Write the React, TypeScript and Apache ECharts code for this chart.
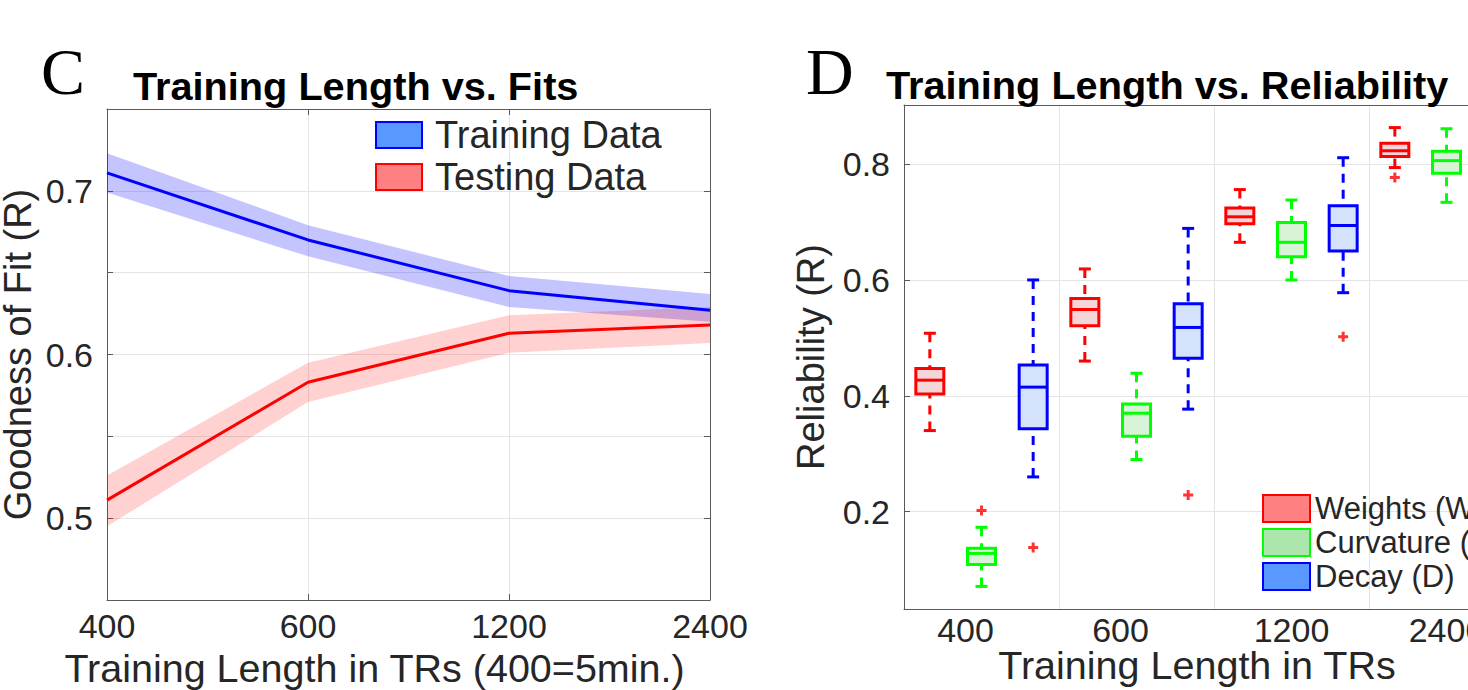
import React, { useEffect, useRef } from 'react';
import * as echarts from 'echarts';

// ---------- Panel C data ----------
const fitLengths = ['400', '600', '1200', '2400'];
const trainMean = [0.711, 0.670, 0.639, 0.627];
const trainUpper = [0.723, 0.679, 0.648, 0.637];
const trainLower = [0.699, 0.660, 0.629, 0.620];
const testMean = [0.511, 0.583, 0.613, 0.618];
const testUpper = [0.526, 0.595, 0.624, 0.629];
const testLower = [0.495, 0.571, 0.601, 0.607];

// ---------- Panel D data ----------
const relLengths = ['400', '600', '1200', '2400'];
// each entry: [min, q1, median, q3, max]
const weightsBox = [
  [0.340, 0.403, 0.427, 0.447, 0.508],
  [0.460, 0.521, 0.549, 0.568, 0.619],
  [0.665, 0.697, 0.709, 0.724, 0.756],
  [0.794, 0.813, 0.823, 0.836, 0.863],
];
const curvatureBox = [
  [0.071, 0.109, 0.128, 0.137, 0.173],
  [0.290, 0.330, 0.370, 0.386, 0.439],
  [0.600, 0.640, 0.665, 0.699, 0.738],
  [0.734, 0.784, 0.806, 0.822, 0.861],
];
const decayBox = [
  [0.260, 0.343, 0.415, 0.453, 0.600],
  [0.377, 0.465, 0.518, 0.559, 0.689],
  [0.578, 0.650, 0.694, 0.728, 0.811],
  [0.700, 0.770, 0.800, 0.830, 0.880],
];
// [training-length index, value]
const weightsOutliers = [[3, 0.777]];
const curvatureOutliers = [[0, 0.202]];
const decayOutliers = [[0, 0.138], [1, 0.229], [2, 0.502]];
const relTicks = [0.2, 0.4, 0.6, 0.8];

const FONT = 'Liberation Sans';
const TXT = '#262626';
const AX = '#5a5a5a';
const GRID = '#e4e4e4';
const PLUS = 'path://M3.5,0H6.5V3.5H10V6.5H6.5V10H3.5V6.5H0V3.5H3.5Z';

function boxRender(stroke: string, fill: string) {
  return (params: any, api: any) => {
    const x = api.value(0);
    const pMin = api.coord([x, api.value(1)]);
    const pQ1 = api.coord([x, api.value(2)]);
    const pMed = api.coord([x, api.value(3)]);
    const pQ3 = api.coord([x, api.value(4)]);
    const pMax = api.coord([x, api.value(5)]);
    const cx = pMed[0];
    const hw = 14;
    const cw = 6;
    const lw = 3;
    return {
      type: 'group',
      children: [
        { type: 'line', shape: { x1: cx, y1: pMax[1], x2: cx, y2: pQ3[1] }, style: { stroke, lineWidth: lw, lineDash: [9, 7] } },
        { type: 'line', shape: { x1: cx, y1: pMin[1], x2: cx, y2: pQ1[1] }, style: { stroke, lineWidth: lw, lineDash: [9, 7] } },
        { type: 'line', shape: { x1: cx - cw, y1: pMax[1], x2: cx + cw, y2: pMax[1] }, style: { stroke, lineWidth: lw } },
        { type: 'line', shape: { x1: cx - cw, y1: pMin[1], x2: cx + cw, y2: pMin[1] }, style: { stroke, lineWidth: lw } },
        { type: 'rect', shape: { x: cx - hw, y: pQ3[1], width: hw * 2, height: pQ1[1] - pQ3[1] }, style: { fill, stroke, lineWidth: lw } },
        { type: 'line', shape: { x1: cx - hw, y1: pMed[1], x2: cx + hw, y2: pMed[1] }, style: { stroke, lineWidth: lw } },
      ],
    };
  };
}

export default function App() {
  const ref = useRef<HTMLDivElement>(null);
  useEffect(() => {
    document.body.style.margin = '0';
    const chart = echarts.init(ref.current!, null, { renderer: 'svg' });
    const slots = relLengths.flatMap((l) => [l + 'W', l + 'A', l + 'D']);
    const boxData = (boxes: number[][], off: number) => boxes.map((b, i) => [i * 3 + off, ...b]);
    const outData = (o: number[][], off: number) => o.map(([g, v]) => [g * 3 + off, v]);
    const relAxisData = relLengths.map((l, i) => (i < 2 ? { value: l, textStyle: { padding: [0, 32, 0, 0] } } : l));

    const option: any = {
      animation: false,
      textStyle: { fontFamily: FONT },
      title: [
        { text: 'C', left: 41, top: 38, padding: 0, textStyle: { fontFamily: 'Liberation Serif', fontSize: 66, fontWeight: 'normal', color: '#000' } },
        { text: 'Training Length vs. Fits', left: 133, top: 66, padding: 0, textStyle: { fontFamily: FONT, fontSize: 39.7, fontWeight: 'bold', color: '#000' } },
        { text: 'D', left: 806, top: 38, padding: 0, textStyle: { fontFamily: 'Liberation Serif', fontSize: 66, fontWeight: 'normal', color: '#000' } },
        { text: 'Training Length vs. Reliability', left: 886, top: 65, padding: 0, textStyle: { fontFamily: FONT, fontSize: 39.7, fontWeight: 'bold', color: '#000' } },
      ],
      legend: [
        {
          left: 375, top: 116, orient: 'vertical', padding: 0, itemWidth: 46, itemHeight: 26, itemGap: 4,
          icon: 'rect', selectedMode: false,
          textStyle: { fontSize: 38, color: TXT, lineHeight: 26, padding: [0, 0, 0, 8] },
          data: ['Training Data', 'Testing Data'],
        },
        {
          left: 1262, top: 493, orient: 'vertical', padding: 0, itemWidth: 47, itemHeight: 27, itemGap: 3,
          icon: 'rect', selectedMode: false,
          textStyle: { fontSize: 31, color: TXT, lineHeight: 27 },
          data: ['Weights (W)', 'Curvature (A)', 'Decay (D)'],
        },
      ],
      grid: [
        { left: 107, top: 109, width: 603, height: 491, outerBoundsMode: 'none', containLabel: false },
        { left: 904, top: 105, width: 620, height: 504, outerBoundsMode: 'none', containLabel: false },
      ],
      xAxis: [
        {
          gridIndex: 0, type: 'category', data: fitLengths, boundaryGap: false,
          axisLine: { lineStyle: { color: AX } },
          axisTick: { inside: true, length: 6, lineStyle: { color: AX } },
          axisLabel: { fontSize: 34, color: TXT, margin: 9 },
          splitLine: { show: true, lineStyle: { color: GRID } },
          name: 'Training Length in TRs (400=5min.)', nameLocation: 'middle', nameGap: 48, nameMoveOverlap: false,
          nameTextStyle: { fontSize: 39.5, color: TXT, padding: [0, 68, 0, 0] },
        },
        {
          gridIndex: 0, type: 'category', data: fitLengths, boundaryGap: false, position: 'top',
          axisLine: { lineStyle: { color: AX } },
          axisTick: { inside: true, length: 6, lineStyle: { color: AX } },
          axisLabel: { show: false }, splitLine: { show: false },
        },
        {
          gridIndex: 1, type: 'category', data: relAxisData, boundaryGap: true,
          axisLine: { lineStyle: { color: AX } },
          axisTick: { inside: true, length: 6, lineStyle: { color: AX } },
          axisLabel: { fontSize: 34, color: TXT, margin: 6, lineHeight: 30 },
          splitLine: { show: true, lineStyle: { color: GRID } },
          name: 'Training Length in TRs', nameLocation: 'middle', nameGap: 39, nameMoveOverlap: false,
          nameTextStyle: { fontSize: 39.5, color: TXT, lineHeight: 34, padding: [0, 34, 0, 0] },
        },
        {
          gridIndex: 1, type: 'category', data: slots, boundaryGap: true, show: false,
        },
        {
          gridIndex: 1, type: 'category', data: relLengths, boundaryGap: true, position: 'top',
          axisLine: { lineStyle: { color: AX } },
          axisTick: { inside: true, length: 6, lineStyle: { color: AX } },
          axisLabel: { show: false }, splitLine: { show: false },
        },
      ],
      yAxis: [
        {
          gridIndex: 0, type: 'value', min: 0.45, max: 0.75, interval: 0.05,
          axisLine: { show: true, lineStyle: { color: AX } },
          axisTick: { show: true, inside: true, length: 6, lineStyle: { color: AX } },
          axisLabel: {
            fontSize: 34, color: TXT, margin: 14,
            formatter: (v: number) => (Math.abs(v * 10 - Math.round(v * 10)) < 1e-6 ? v.toFixed(1) : ''),
          },
          splitLine: { show: true, lineStyle: { color: GRID } },
          name: 'Goodness of Fit (R)', nameLocation: 'middle', nameGap: 74, nameMoveOverlap: false,
          nameTextStyle: { fontSize: 38, color: TXT, lineHeight: 30 },
        },
        {
          gridIndex: 0, type: 'value', min: 0.45, max: 0.75, interval: 0.05, position: 'right',
          axisLine: { show: true, lineStyle: { color: AX } },
          axisTick: { show: true, inside: true, length: 6, lineStyle: { color: AX } },
          axisLabel: { show: false }, splitLine: { show: false },
        },
        {
          gridIndex: 1, type: 'value', min: 0.032, max: 0.902,
          axisLine: { show: true, lineStyle: { color: AX } },
          axisTick: { show: true, inside: true, length: 6, lineStyle: { color: AX }, customValues: relTicks },
          axisLabel: { fontSize: 34, color: TXT, margin: 14, customValues: relTicks, formatter: (v: number) => v.toFixed(1) },
          splitLine: { show: true, lineStyle: { color: GRID } },
          name: 'Reliability (R)', nameLocation: 'middle', nameGap: 74, nameMoveOverlap: false,
          nameTextStyle: { fontSize: 38, color: TXT },
        },
      ],
      series: [
        // Panel C bands
        { type: 'line', xAxisIndex: 0, yAxisIndex: 0, data: trainLower, stack: 'trainBand', symbol: 'none', lineStyle: { opacity: 0 }, silent: true, z: 1 },
        { type: 'line', xAxisIndex: 0, yAxisIndex: 0, data: trainUpper.map((u, i) => u - trainLower[i]), stack: 'trainBand', symbol: 'none', lineStyle: { opacity: 0 }, areaStyle: { color: 'rgba(0,0,255,0.23)', opacity: 1 }, silent: true, z: 1 },
        { type: 'line', xAxisIndex: 0, yAxisIndex: 0, data: testLower, stack: 'testBand', symbol: 'none', lineStyle: { opacity: 0 }, silent: true, z: 1 },
        { type: 'line', xAxisIndex: 0, yAxisIndex: 0, data: testUpper.map((u, i) => u - testLower[i]), stack: 'testBand', symbol: 'none', lineStyle: { opacity: 0 }, areaStyle: { color: 'rgba(255,0,0,0.18)', opacity: 1 }, silent: true, z: 1 },
        { type: 'line', name: 'trainLine', xAxisIndex: 0, yAxisIndex: 0, data: trainMean, symbol: 'none', lineStyle: { color: '#0000ff', width: 3 }, z: 3 },
        { type: 'line', name: 'testLine', xAxisIndex: 0, yAxisIndex: 0, data: testMean, symbol: 'none', lineStyle: { color: '#ff0000', width: 3 }, z: 3 },
        // legend proxies
        { type: 'bar', name: 'Training Data', xAxisIndex: 0, yAxisIndex: 0, data: [], itemStyle: { color: '#5898ff', borderColor: '#0000ff', borderWidth: 2 } },
        { type: 'bar', name: 'Testing Data', xAxisIndex: 0, yAxisIndex: 0, data: [], itemStyle: { color: '#ff8080', borderColor: '#ff0000', borderWidth: 2 } },
        { type: 'bar', name: 'Weights (W)', xAxisIndex: 2, yAxisIndex: 2, data: [], itemStyle: { color: '#ff8080', borderColor: '#ff0000', borderWidth: 2 } },
        { type: 'bar', name: 'Curvature (A)', xAxisIndex: 2, yAxisIndex: 2, data: [], itemStyle: { color: '#ade6ad', borderColor: '#00ff00', borderWidth: 2 } },
        { type: 'bar', name: 'Decay (D)', xAxisIndex: 2, yAxisIndex: 2, data: [], itemStyle: { color: '#5898ff', borderColor: '#0000ff', borderWidth: 2 } },
        // Panel D boxes
        { type: 'custom', xAxisIndex: 3, yAxisIndex: 2, data: boxData(weightsBox, 0), renderItem: boxRender('#ff0000', '#f4d6d9'), encode: { x: 0, y: [1, 2, 3, 4, 5] }, z: 3 },
        { type: 'custom', xAxisIndex: 3, yAxisIndex: 2, data: boxData(curvatureBox, 1), renderItem: boxRender('#00ff00', '#d8f3d8'), encode: { x: 0, y: [1, 2, 3, 4, 5] }, z: 3 },
        { type: 'custom', xAxisIndex: 3, yAxisIndex: 2, data: boxData(decayBox, 2), renderItem: boxRender('#0000ff', '#d4e2fb'), encode: { x: 0, y: [1, 2, 3, 4, 5] }, z: 3 },
        // outliers
        { type: 'scatter', xAxisIndex: 3, yAxisIndex: 2, data: outData(weightsOutliers, 0), symbol: PLUS, symbolSize: 10, itemStyle: { color: '#ff0000' }, z: 4 },
        { type: 'scatter', xAxisIndex: 3, yAxisIndex: 2, data: outData(curvatureOutliers, 1), symbol: PLUS, symbolSize: 10, itemStyle: { color: '#ff0000' }, z: 4 },
        { type: 'scatter', xAxisIndex: 3, yAxisIndex: 2, data: outData(decayOutliers, 2), symbol: PLUS, symbolSize: 10, itemStyle: { color: '#ff0000' }, z: 4 },
      ],
    };
    chart.setOption(option);
    return () => chart.dispose();
  }, []);
  return <div ref={ref} style={{ width: 1468, height: 690 }} />;
}
